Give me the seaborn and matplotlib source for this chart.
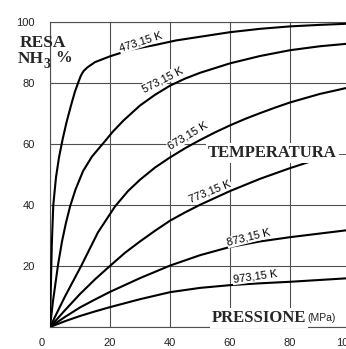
import numpy as np
import pandas as pd
import matplotlib
matplotlib.use('Agg')
import matplotlib.pyplot as plt
import matplotlib.transforms as mtransforms
import seaborn as sns

# ---------------- data (pressure MPa -> % NH3) ----------------
p_473 = [0, 0.3, 0.6, 1.1, 2, 3, 4.2, 5.5, 7, 8.3, 9.4, 10.3, 11.2, 12.5, 15, 20, 27, 35, 42, 50, 60, 70, 80, 90, 100]
y_473 = [0, 14, 27, 40, 49, 55.5, 61.4, 67, 72.5, 77, 80, 82.3, 83.8, 85, 86.7, 88.6, 90.8, 92.3, 93.8, 95, 96.5, 97.6, 98.4, 98.9, 99.3]

p_573 = [0, 1, 2.7, 4, 5.3, 6.7, 8.5, 11, 14, 17.7, 21, 24.5, 30, 35, 40, 45, 50, 60, 70, 80, 90, 100]
y_573 = [0, 8.5, 20.5, 28, 34, 39.5, 45, 51, 55.8, 60.1, 64, 67.6, 72.5, 76, 79, 81.3, 83.2, 86.3, 88.7, 90.6, 91.9, 92.8]

p_673 = [0, 5, 10.4, 16, 21.7, 26, 30, 35, 40, 45, 50, 55, 60, 65, 70, 75, 80, 90, 100]
y_673 = [0, 10, 20, 31, 39.5, 44.5, 48.2, 52.2, 55.5, 58.5, 61.2, 63.7, 66, 68.1, 70, 71.8, 73.5, 76.3, 78.5]

p_773 = [0, 5, 10, 15, 20, 25, 30, 35, 40, 45, 50, 60, 70, 80, 90]
y_773 = [0, 5.5, 10.8, 15.6, 20, 24.3, 28, 31.5, 34.8, 37.5, 40, 44.5, 48.5, 52, 55.2]

p_873 = [0, 5, 10, 15, 20, 30, 40, 50, 60, 70, 80, 90, 100]
y_873 = [0, 3.3, 6.4, 9, 11.5, 16, 20.1, 23.5, 26.2, 28, 29.4, 30.6, 31.8]

p_973 = [0, 5, 10, 15, 20, 30, 40, 50, 60, 70, 80, 90, 100]
y_973 = [0, 1.9, 3.6, 5.1, 6.5, 9.1, 11.4, 12.8, 13.7, 14.3, 14.8, 15.4, 16]

temps = ['473,15 K', '573,15 K', '673,15 K', '773,15 K', '873,15 K', '973,15 K']
pressures = [p_473, p_573, p_673, p_773, p_873, p_973]
yields = [y_473, y_573, y_673, y_773, y_873, y_973]

x_ticks = [0, 20, 40, 60, 80, 100]
y_ticks = [0, 20, 40, 60, 80, 100]
y_tick_labels = ['', '20', '40', '60', '80', '100']

# label positions along the curves (data coords) and angles
label_pos = [(30.3, 93.3), (37.5, 81.0), (46.0, 62.5), (53.3, 44.3), (66.3, 29.3), (68.3, 16.5)]
label_rot = [18, 27, 31, 22, 14, 8]

# ---------------- long form table ----------------
frames = []
for t, p, y in zip(temps, pressures, yields):
    frames.append(pd.DataFrame({'pressione': p, 'resa': y, 'temperatura': t}))
df = pd.concat(frames, ignore_index=True)

sns.set_style('white')
plt.rcParams['font.family'] = ['Liberation Sans', 'DejaVu Sans']

W, H = 346, 349
fig = plt.figure(figsize=(W / 100, H / 100), dpi=100)
ax = fig.add_axes([50 / W, 22 / H, 300 / W, 305.5 / H])

grid_c = '#505050'
sns.lineplot(data=df, x='pressione', y='resa', units='temperatura', estimator=None,
             color='black', linewidth=1.5, ax=ax, legend=False, zorder=3)

ax.set_xlim(0, 100)
ax.set_ylim(0, 100)
ax.set_xticks(x_ticks)
ax.set_xticklabels([str(v) for v in x_ticks])
ax.set_yticks(y_ticks)
ax.set_yticklabels(y_tick_labels)
ax.set_xlabel('')
ax.set_ylabel('')
ax.grid(True, color=grid_c, linewidth=0.8)
ax.set_axisbelow(True)
for side in ['left', 'bottom', 'top']:
    ax.spines[side].set_color(grid_c)
    ax.spines[side].set_linewidth(0.8)
ax.spines['right'].set_visible(False)
ax.tick_params(axis='y', length=9.5, width=0.8, color=grid_c, pad=1.5,
               labelsize=8, labelcolor='#222222')
ax.tick_params(axis='x', length=3, width=0.8, color=grid_c, pad=5,
               labelsize=8, labelcolor='#222222')

# the "0" sits a little left of the axis, the cut "100" a little left too
xlabs = ax.get_xticklabels()
xlabs[0].set_transform(xlabs[0].get_transform() +
                       mtransforms.ScaledTranslation(-0.08, 0, fig.dpi_scale_trans))
xlabs[-1].set_transform(xlabs[-1].get_transform() +
                        mtransforms.ScaledTranslation(-0.05, 0, fig.dpi_scale_trans))

# curve labels
for t, (lx, ly), r in zip(temps, label_pos, label_rot):
    ax.text(lx, ly, t, rotation=r, rotation_mode='anchor', ha='center', va='center',
            fontsize=8, color='black', zorder=4,
            bbox=dict(facecolor='white', edgecolor='none', pad=0.4))

serif = ['Liberation Serif', 'DejaVu Serif']
white = dict(facecolor='white', edgecolor='none', pad=1.5)


def fx(px):
    return px / W


def fy(py):
    return 1 - py / H


fig.text(fx(20), fy(47), 'RESA', family=serif, weight='bold', fontsize=12.5, va='baseline')
fig.text(fx(18), fy(63), 'NH', family=serif, weight='bold', fontsize=12.5, va='baseline')
fig.text(fx(44), fy(68), '3', family=serif, weight='bold', fontsize=10, va='baseline')
fig.text(fx(55), fy(62), '%', family=serif, weight='bold', fontsize=12, va='baseline')

fig.text(fx(208), fy(157), 'TEMPERATURA\u2192', family=serif, weight='bold', fontsize=12,
         va='baseline', bbox=white, zorder=5)
fig.text(fx(212), fy(322), 'PRESSIONE', family=serif, weight='bold', fontsize=12,
         va='baseline', bbox=white, zorder=5)
fig.text(fx(307), fy(321), '(MPa)', fontsize=7.5, va='baseline', color='#222222',
         bbox=dict(facecolor='white', edgecolor='none', pad=0.8), zorder=5)

fig.savefig('out.png', dpi=100)
